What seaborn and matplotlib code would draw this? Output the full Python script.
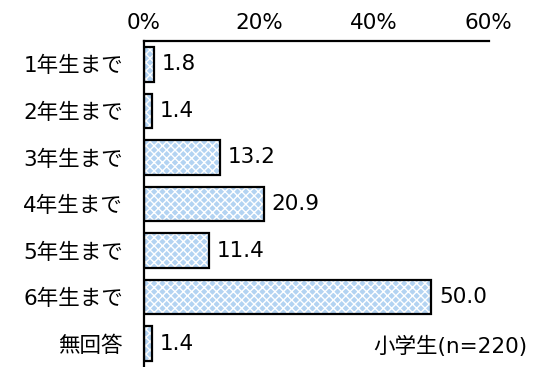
import matplotlib
matplotlib.use("Agg")
import matplotlib.pyplot as plt
import seaborn as sns
import pandas as pd

categories = ["1年生まで", "2年生まで", "3年生まで", "4年生まで", "5年生まで", "6年生まで", "無回答"]
values = [1.8, 1.4, 13.2, 20.9, 11.4, 50.0, 1.4]
tick_values = [0, 20, 40, 60]
tick_labels = ["0%", "20%", "40%", "60%"]
note = "小学生(n=220)"

sns.set_style("white")
plt.rcParams["font.family"] = ["DejaVu Sans", "Noto Sans CJK JP"]
plt.rcParams["text.color"] = "black"
plt.rcParams["xtick.color"] = "black"
plt.rcParams["ytick.color"] = "black"

df = pd.DataFrame({"cat": categories, "val": values})

fig = plt.figure(figsize=(5.39, 3.67), dpi=100)
ax = fig.add_axes([0.267, 0.0, 0.640, 0.888])

# patterned fill: light blue with white cross-hatch
sns.barplot(data=df, x="val", y="cat", orient="h", ax=ax, color="#B3D3F2",
            saturation=1, width=0.74, edgecolor="white", linewidth=0, hatch="xxxx")
# black outline on top
sns.barplot(data=df, x="val", y="cat", orient="h", ax=ax, fill=False,
            saturation=1, width=0.74, edgecolor="black", linewidth=1.6)

for i, v in enumerate(values):
    ax.text(v + 1.3, i, f"{v:.1f}", va="center", ha="left", fontsize=15.5, color="black")

ax.set_xlim(0, 60)
ax.set_ylim(6.5, -0.5)
ax.xaxis.tick_top()
ax.set_xticks(tick_values)
ax.set_xticklabels(tick_labels, fontsize=15.5)
ax.tick_params(axis="x", length=0, pad=6, labelcolor="black")
ax.tick_params(axis="y", length=0, pad=15, labelsize=15.5, labelcolor="black")
ax.set_xlabel("")
ax.set_ylabel("")
for s in ["right", "bottom"]:
    ax.spines[s].set_visible(False)
for s in ["top", "left"]:
    ax.spines[s].set_color("black")
    ax.spines[s].set_linewidth(1.6)

fig.text(0.978, 0.055, note, ha="right", va="center", fontsize=15.5, color="black")

fig.savefig("out.png", dpi=100)
